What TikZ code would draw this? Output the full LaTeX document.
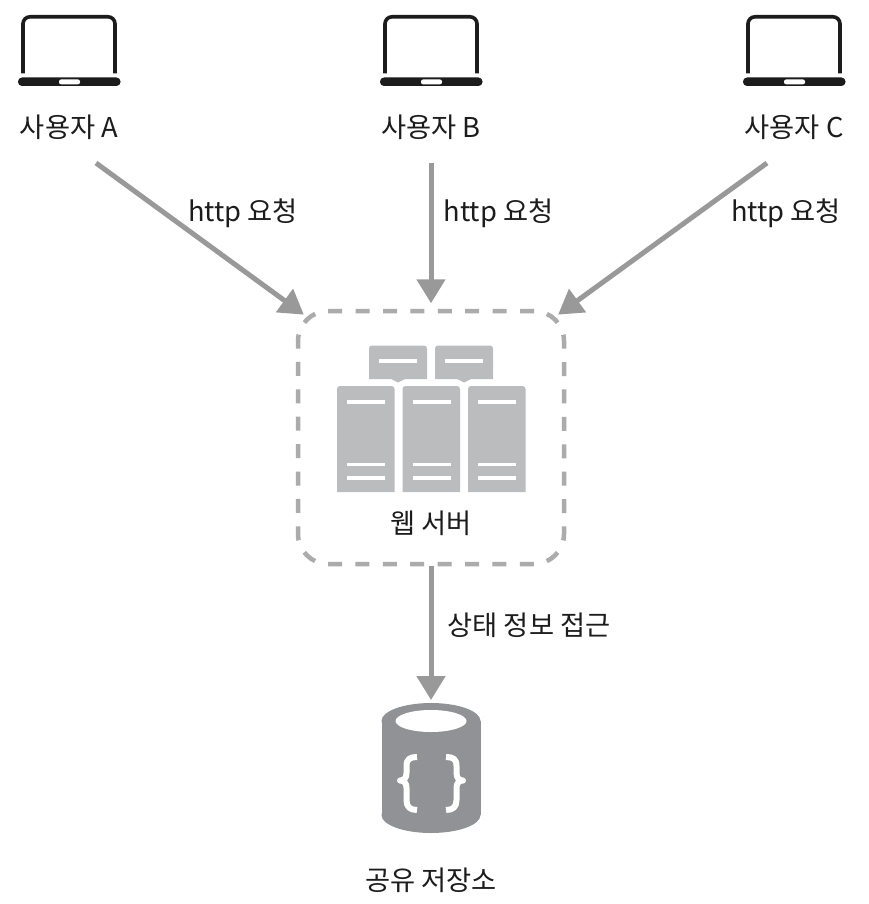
\documentclass[tikz,border=0pt]{standalone}
\usepackage{fontspec}
\setmainfont{Noto Sans CJK KR}
\usepackage{tikz}
\usetikzlibrary{positioning,arrows.meta}
\definecolor{linkgray}{HTML}{999999}
\definecolor{boxgray}{HTML}{ABABAB}
\definecolor{rackgray}{HTML}{BBBCBE}
\definecolor{dbgray}{HTML}{919295}
\definecolor{inkblack}{HTML}{1C1C1C}

\begin{document}
\begin{tikzpicture}[
  x=1pt, y=-1pt,
  font=\fontsize{27.3}{32}\selectfont,
  txt/.style={text=inkblack, inner sep=0pt, anchor=center},
  flow/.style={draw=linkgray, line width=5pt, -{Triangle[length=24pt,width=28pt]}},
  webbox/.style={draw=boxgray, line width=4.5pt, dash pattern=on 14pt off 13.4pt, rounded corners=30pt, minimum width=266pt, minimum height=253pt, inner sep=0pt},
  bar/.style={draw=white, line width=3.8pt},
  brace/.style={draw=white, line width=6pt, line join=round},
  laptop/.pic={
    \draw[inkblack, line width=3.6pt, rounded corners=7pt] (-46,57.5) -- (-46,0.8) -- (46,0.8) -- (46,57.5);
    \fill[inkblack, rounded corners=4pt] (-51,61.5) rectangle (51.5,70);
    \fill[white, rounded corners=2pt] (-10,63.5) rectangle (11,68.3);
  },
  tower/.pic={
    \fill[rackgray] (0,106) [rounded corners=3pt] -- (0,0) -- (57.5,0) [sharp corners] -- (57.5,106) -- cycle;
    \draw[bar] (10,16) -- (48,16);
    \draw[bar] (10,78.5) -- (48,78.5);
    \draw[bar] (10,92) -- (48,92);
  },
  rack/.pic={
    \fill[rackgray] (0,33.5) [rounded corners=3pt] -- (0,0) -- (58,0) [sharp corners] -- (58,33.5) -- (36,33.5) -- (29,37) -- (22,33.5) -- cycle;
    \draw[bar] (10,15.5) -- (48,15.5);
  }
]
\useasboundingbox (0,0) rectangle (868,904);

\pic at (69,16) {laptop};
\pic at (431,16) {laptop};
\pic at (794,16) {laptop};
\node[txt] (ua) at (69,127.5) {사용자 A};
\node[txt] (ub) at (431,127.5) {사용자 B};
\node[txt] (uc) at (794,127.5) {사용자 C};

\node[webbox] (web) at (431,437.5) {};
\pic at (369,345.5) {rack};
\pic at (435,345.5) {rack};
\pic at (337,386) {tower};
\pic at (402.5,386) {tower};
\pic at (468,386) {tower};
\node[txt] (weblabel) at (431,523) {웹 서버};

\fill[dbgray] (431,721) ellipse[x radius=49.5, y radius=18];
\fill[dbgray] (381.5,721) rectangle (480.5,815);
\fill[dbgray] (431,815) ellipse[x radius=49.5, y radius=18];
\fill[white] (431,721) ellipse[x radius=35.5, y radius=11];
\draw[brace] (417,757) .. controls (410,757) and (406.5,759) .. (406.5,766)
  -- (406.5,773) .. controls (406.5,778) and (404,780.5) .. (400,780.5)
  .. controls (404,780.5) and (406.5,783) .. (406.5,788)
  -- (406.5,800) .. controls (406.5,807) and (410,810) .. (417,810);
\draw[brace] (446,757) .. controls (453,757) and (456.5,759) .. (456.5,766)
  -- (456.5,773) .. controls (456.5,778) and (459,780.5) .. (463,780.5)
  .. controls (459,780.5) and (456.5,783) .. (456.5,788)
  -- (456.5,800) .. controls (456.5,807) and (453,810) .. (446,810);
\coordinate (db) at (431,700);
\node[txt] (dblabel) at (431,880) {공유 저장소};

\coordinate (aout) at (96,163);
\coordinate (bout) at (431,163);
\coordinate (cout) at (767,163);
\coordinate (webout) at (431,566);
\draw[flow, shorten >=-10pt] (aout) -- (web.north west);
\draw[flow, shorten >=5.5pt] (bout) -- (web.north);
\draw[flow, shorten >=-10pt] (cout) -- (web.north east);
\draw[flow] (webout) -- (db);

\node[txt] (reqa) at (243,213) {http 요청};
\node[txt] (reqb) at (498.5,213) {http 요청};
\node[txt] (reqc) at (786,213) {http 요청};
\node[txt] (state) at (529,625) {상태 정보 접근};
\end{tikzpicture}
\end{document}
